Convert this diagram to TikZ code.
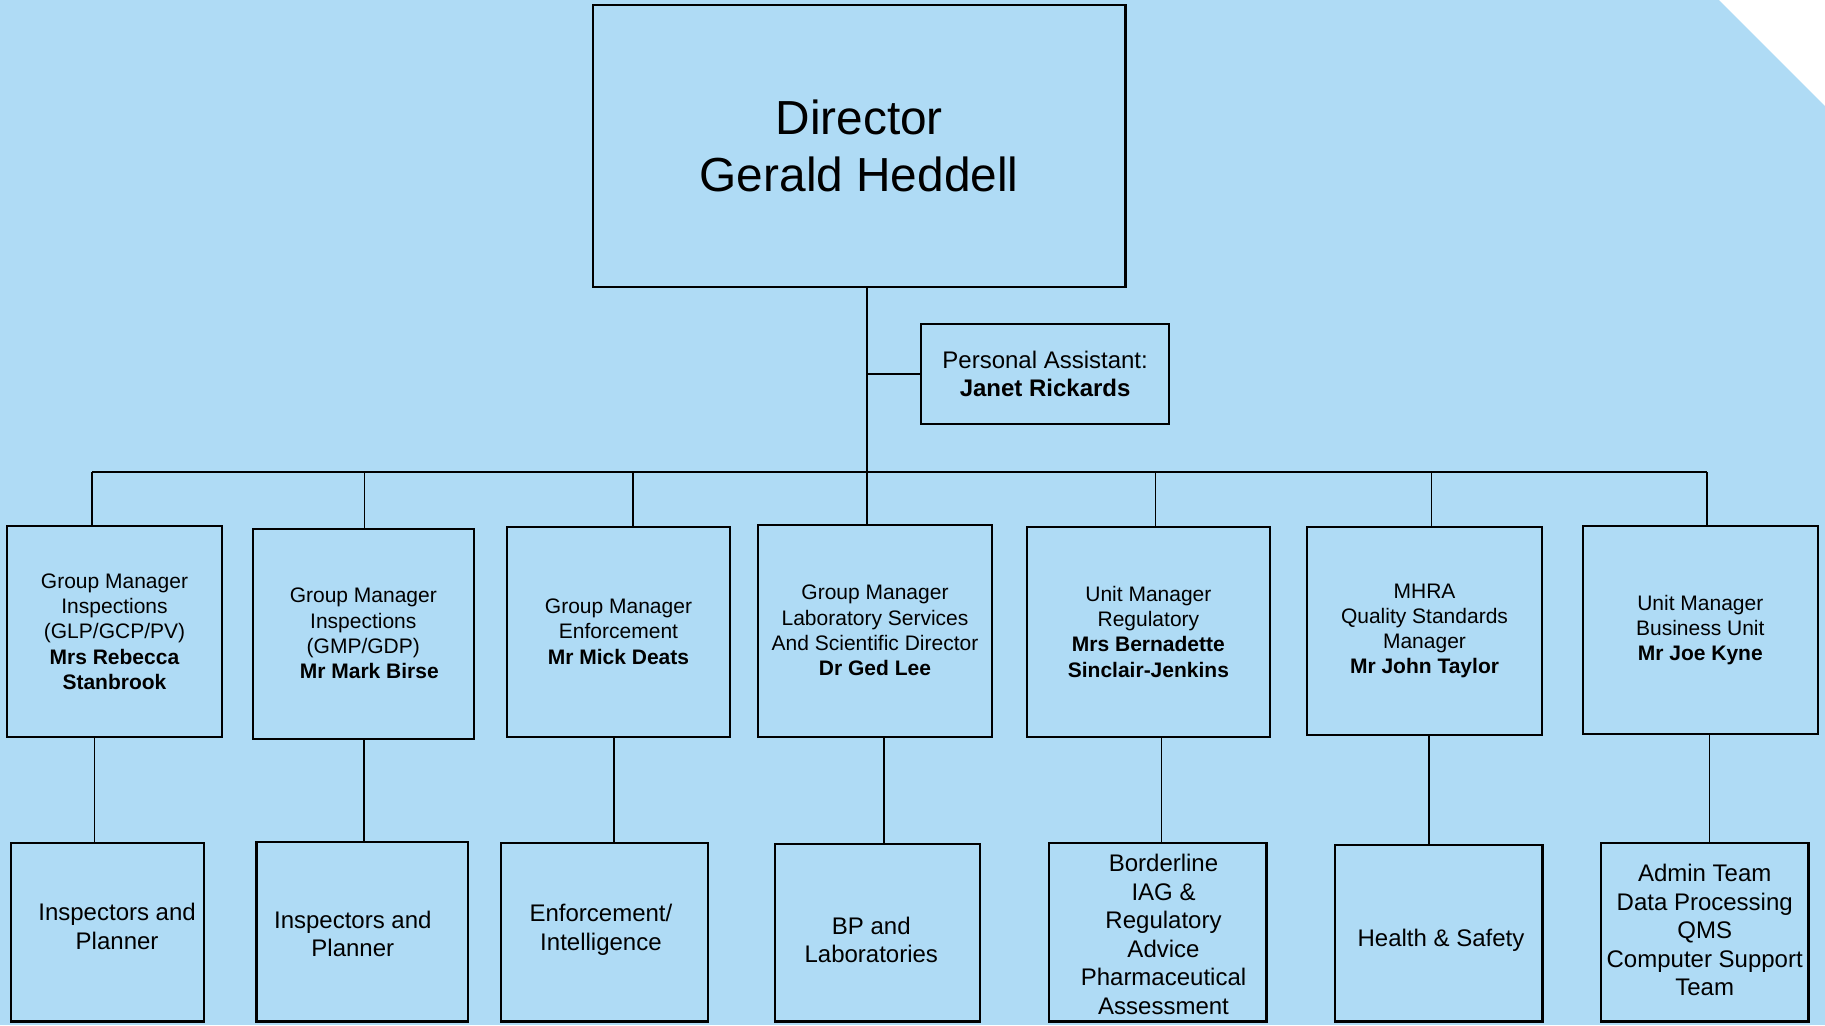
\documentclass[tikz,border=0pt]{standalone}
\usepackage{fontspec}
\setmainfont{Liberation Sans}
\definecolor{bg}{RGB}{175,219,245}
\tikzset{
  box/.style={draw=black, line width=2.2pt, fill=bg, inner sep=0pt, outer sep=0pt, align=center},
  mgr/.style={box, font=\fontsize{21pt}{25.3pt}\selectfont},
  team/.style={box},
  teamtext/.style={inner sep=0pt, align=center, font=\fontsize{24pt}{28.5pt}\selectfont},
  conn/.style={draw=black, line width=1.5pt},
  busline/.style={draw=black, line width=1.8pt}
}
\begin{document}
\begin{tikzpicture}[x=1pt,y=-1pt]
\useasboundingbox (0,0) rectangle (1825,1025);
\fill[bg] (0,0) rectangle (1825,1025);
\fill[white] (1719,0) -- (1825,0) -- (1825,106) -- cycle;

% Director and PA
\node[box, minimum width=532.4pt, minimum height=282pt, font=\fontsize{47.8pt}{57pt}\selectfont] (dir) at (859.2,146.3) {Director\\Gerald Heddell};
\node[box, minimum width=248.3pt, minimum height=100pt, font=\fontsize{24pt}{28.7pt}\selectfont] (pa) at (1045.15,374) {Personal Assistant:\\\textbf{Janet Rickards}};

% Managers
\node[mgr, minimum width=215pt, minimum height=211pt] (m1) at (114.5,631.5) {Group Manager\\Inspections\\(GLP/GCP/PV)\\\textbf{Mrs Rebecca}\\\textbf{Stanbrook}};
\node[mgr, minimum width=220.6pt, minimum height=210pt] (m2) at (363.3,633.7) {Group Manager\\Inspections\\(GMP/GDP)\\\hspace*{12pt}\textbf{Mr Mark Birse}};
\node[mgr, minimum width=223pt, minimum height=210pt] (m3) at (618.5,631.7) {Group Manager\\Enforcement\\\textbf{Mr Mick Deats}};
\node[mgr, minimum width=234pt, minimum height=212pt] (m4) at (875,630.7) {Group Manager\\Laboratory Services\\And Scientific Director\\\textbf{Dr Ged Lee}};
\node[mgr, minimum width=243.2pt, minimum height=210pt] (m5) at (1148.4,631.7) {Unit Manager\\Regulatory\\\textbf{Mrs Bernadette}\\\textbf{Sinclair-Jenkins}};
\node[mgr, minimum width=235pt, minimum height=208.3pt] (m6) at (1424.5,630.9) {MHRA\\Quality Standards\\Manager\\\textbf{Mr John Taylor}};
\node[mgr, minimum width=235.4pt, minimum height=208pt] (m7) at (1700.3,630) {Unit Manager\\Business Unit\\\textbf{Mr Joe Kyne}};

% Teams (boxes)
\node[team, minimum width=193pt, minimum height=178.8pt] (b1) at (107.1,932.1) {};
\node[team, minimum width=211.2pt, minimum height=179.5pt] (b2) at (362.1,931.75) {};
\node[team, minimum width=207.7pt, minimum height=178.8pt] (b3) at (604.45,932.1) {};
\node[team, minimum width=205pt, minimum height=177.2pt] (b4) at (877.1,932.9) {};
\node[team, minimum width=217.4pt, minimum height=178.8pt] (b5) at (1157.7,932.1) {};
\node[team, minimum width=207.7pt, minimum height=176.8pt] (b6) at (1438.65,933.1) {};
\node[team, minimum width=207.6pt, minimum height=178.5pt] (b7) at (1704.7,932.25) {};

% Teams (texts)
\node[teamtext, xshift=10pt, yshift=5.8pt] (t1) at (b1.center) {Inspectors and\\Planner};
\node[teamtext, xshift=-9.3pt, yshift=-2.3pt] (t2) at (b2.center) {Inspectors and\\Planner};
\node[teamtext, xshift=-3.5pt, yshift=2.3pt] (t3) at (b3.center) {Enforcement/\\Intelligence};
\node[teamtext, xshift=-5.8pt, yshift=-7pt] (t4) at (b4.center) {BP and\\Laboratories};
\node[teamtext, xshift=5.8pt, yshift=-2.3pt] (t5) at (b5.center) {Borderline\\IAG \&\\Regulatory\\Advice\\Pharmaceutical\\Assessment};
\node[teamtext, xshift=2.3pt, yshift=-7pt] (t6) at (b6.center) {Health \& Safety};
\node[teamtext, yshift=2.3pt] (t7) at (b7.center) {Admin Team\\Data Processing\\QMS\\Computer Support\\Team};

% Trunk and PA link
\coordinate (tr) at (867,0);
\draw[conn] (dir.south -| tr) -- (m4.north -| tr);
\draw[conn] (tr |- pa.west) -- (pa.west);

% Bus
\coordinate (busL) at (92,472);
\coordinate (busR) at (1707,472);
\draw[busline] (busL) -- (busR);

% Drops from bus
\foreach \n/\x in {1/92, 2/364.4, 3/633, 5/1155.5, 6/1431.6, 7/1707} {
  \coordinate (d\n) at (\x,472);
  \draw[conn] (d\n) -- (d\n |- m\n.north);
}

% Manager to team links
\foreach \n/\x in {1/94.5, 2/363.8, 3/613.8, 4/883.8, 5/1161.4, 6/1429.2, 7/1709.4} {
  \coordinate (u\n) at (\x,0);
  \draw[conn] (u\n |- m\n.south) -- (u\n |- b\n.north);
}
\end{tikzpicture}
\end{document}
